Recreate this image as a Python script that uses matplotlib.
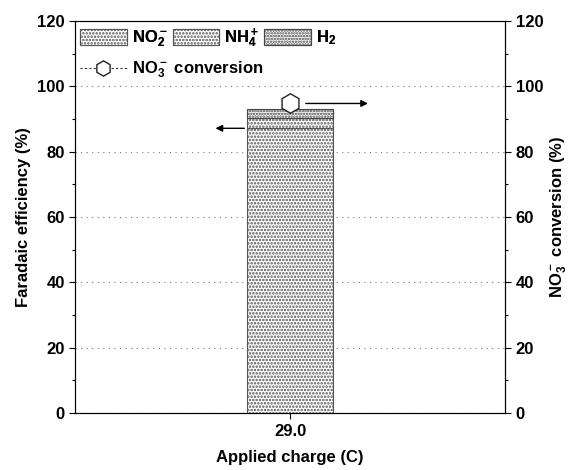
import matplotlib
matplotlib.use("Agg")
import matplotlib.pyplot as plt
from matplotlib.lines import Line2D

plt.rcParams['font.family'] = ['Liberation Sans', 'DejaVu Sans']
plt.rcParams['font.weight'] = 'bold'
plt.rcParams['axes.labelweight'] = 'bold'
plt.rcParams['mathtext.fontset'] = 'custom'
plt.rcParams['mathtext.rm'] = 'Liberation Sans:bold'
plt.rcParams['mathtext.default'] = 'rm'
plt.rcParams['hatch.linewidth'] = 1.2

categories = ["29.0"]
no2 = [87.2]
nh4 = [3.1]
h2 = [2.7]
conversion = [94.8]
conversion_err = [2.0]

fig = plt.figure(figsize=(5.82, 4.70), dpi=100)
ax = fig.add_axes([0.129, 0.121, 0.739, 0.834])

x = [0]
w = 0.8
ax.bar(x, no2, w, color='white', edgecolor='#555555', hatch='.....', linewidth=0.8, label='NO$_2^-$', zorder=2)
b2 = [a for a in no2]
ax.bar(x, nh4, w, bottom=b2, color='white', edgecolor='#555555', hatch='.....', linewidth=0.8, label='NH$_4^+$', zorder=2)
b3 = [a + b for a, b in zip(no2, nh4)]
ax.bar(x, h2, w, bottom=b3, color='white', edgecolor='#444444', hatch='......', linewidth=0.8, label='H$_2$', zorder=2)

ax.set_xlim(-2, 2)
ax.set_ylim(0, 120)
ax.set_yticks(range(0, 121, 20))
ax.set_yticks(range(10, 121, 20), minor=True)
ax.set_xticks(x)
ax.set_xticklabels(categories)
ax.yaxis.grid(True, linestyle=(0, (1, 4)), color='#777777', linewidth=0.8)
ax.set_axisbelow(True)
ax.tick_params(axis='both', labelsize=12, length=4, width=0.8)
ax.tick_params(axis='y', which='minor', length=2.5, width=0.8)
ax.set_xlabel('Applied charge (C)', fontsize=12, labelpad=8)
ax.set_ylabel('Faradaic efficiency (%)', fontsize=12)

ax2 = ax.twinx()
ax2.set_ylim(0, 120)
ax2.set_yticks(range(0, 121, 20))
ax2.set_yticks(range(10, 121, 20), minor=True)
ax2.tick_params(axis='y', labelsize=12, length=4, width=0.8)
ax2.tick_params(axis='y', which='minor', length=2.5, width=0.8)
ax2.set_ylabel('NO$_3^-$ conversion (%)', fontsize=12)
ax2.errorbar(x, conversion, yerr=conversion_err, fmt='h', markersize=14,
             markerfacecolor='white', markeredgecolor='#222222', ecolor='#222222',
             capsize=3, linestyle='none', zorder=5)

# arrows
ax.annotate('', xy=(-0.72, no2[0]), xytext=(-0.4, no2[0]),
            arrowprops=dict(arrowstyle='-|>', color='black', lw=1, mutation_scale=10))
ax2.annotate('', xy=(0.75, conversion[0]), xytext=(0.12, conversion[0]),
             arrowprops=dict(arrowstyle='-|>', color='black', lw=1, mutation_scale=10))

for a in (ax, ax2):
    for s in a.spines.values():
        s.set_linewidth(0.8)

h1, l1 = ax.get_legend_handles_labels()
leg1 = ax.legend(h1, l1, loc='upper left', ncol=3, frameon=False, fontsize=12,
                 handlelength=2.8, handleheight=1.1, columnspacing=0.3, handletextpad=0.3,
                 borderaxespad=0.1, borderpad=0.2, bbox_to_anchor=(0.0, 1.0))
ax.add_artist(leg1)
line_h = Line2D([0], [0], color='#333333', linestyle=(0, (2, 2)), lw=0.8, marker='h',
                markersize=11, markerfacecolor='white', markeredgecolor='#222222')
ax2.legend([line_h], ['NO$_3^-$ conversion'], loc='upper left', frameon=False, fontsize=12,
           handlelength=2.8, handletextpad=0.3, borderpad=0.2, borderaxespad=0.1,
           bbox_to_anchor=(0.0, 0.915))

fig.savefig('out.png', dpi=100)
